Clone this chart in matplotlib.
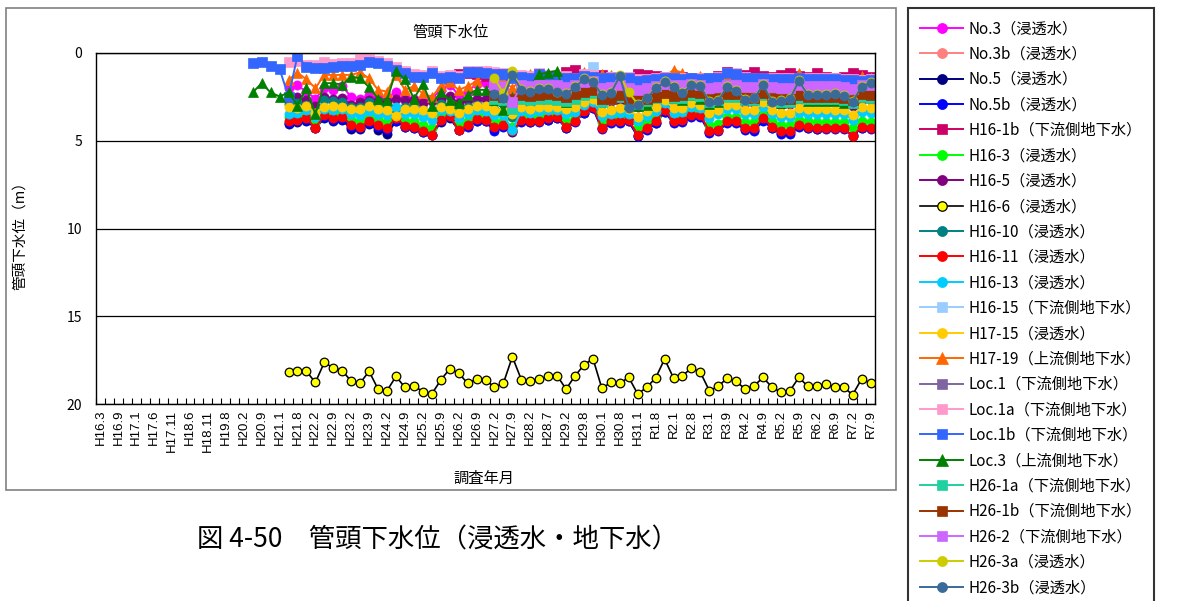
import numpy as np
import matplotlib.pyplot as plt
from matplotlib.patches import Rectangle

plt.rcParams['font.family'] = ['Noto Sans CJK JP', 'DejaVu Sans']

W, H = 1178, 601
n_cat = 87  # H16.3 ... R7.9, ラベルは2つおき

tick_labels = ['H16.3', 'H16.9', 'H17.1', 'H17.6', 'H17.11', 'H18.6', 'H18.11', 'H19.8',
               'H20.2', 'H20.9', 'H21.1', 'H21.8', 'H22.2', 'H22.9', 'H23.2', 'H23.9',
               'H24.2', 'H24.9', 'H25.2', 'H25.9', 'H26.2', 'H26.9', 'H27.2', 'H27.9',
               'H28.2', 'H28.7', 'H29.2', 'H29.8', 'H30.1', 'H30.8', 'H31.1', 'R1.8',
               'R2.1', 'R2.8', 'R3.1', 'R3.9', 'R4.2', 'R4.9', 'R5.2', 'R5.9',
               'R6.2', 'R6.9', 'R7.2', 'R7.9']

# 各系列の開始位置（カテゴリ番号）
start_loc = 17
start_main = 21
start_h16_1b = 40
start_h26 = 44

no3 = [2.00, 1.85, 2.20, 2.60, 2.00, 2.10, 1.90, 2.50, 2.60, 2.40, 2.50,
       2.60, 2.20, 2.50, 2.60, 2.70, 2.60, 2.10, 1.80, 2.40, 2.20, 1.75,
       1.70, 2.20, 2.10, 2.40, 2.10, 2.20, 2.10, 2.00, 2.00, 2.30, 2.10,
       1.80, 1.70, 2.30, 2.20, 2.10, 2.20, 2.50, 2.30, 2.10, 1.80, 2.10,
       2.10, 1.90, 1.90, 2.40, 2.30, 2.00, 2.00, 2.30, 2.30, 1.90, 2.30,
       2.40, 2.40, 2.10, 2.20, 2.20, 2.20, 2.20, 2.20, 2.50, 2.10, 2.10]
no3b = [1.95, 2.00, 2.20, 1.95, 2.00, 1.95, 1.90, 1.95, 2.05, 1.90,
        1.75, 1.70, 2.10, 2.05, 1.95, 2.10, 2.20, 2.10, 2.00, 1.85, 1.95,
        1.95, 1.85, 1.90, 2.10, 2.05, 1.90, 1.90, 2.05, 2.05, 1.85, 2.05,
        2.10, 2.10, 1.95, 2.00, 2.00, 2.00, 2.00, 2.05, 2.15, 1.90, 1.95]
no5 = [4.05, 3.95, 3.85, 4.30, 3.70, 3.85, 3.80, 4.35, 4.35, 4.05, 4.40,
       4.60, 3.90, 4.20, 4.25, 4.50, 4.70, 3.95, 3.70, 4.40, 4.15, 3.85,
       3.90, 4.35, 4.15, 4.50, 3.90, 3.95, 3.90, 3.80, 3.70, 4.25, 3.90,
       3.40, 3.15, 4.30, 3.95, 3.95, 3.90, 4.75, 4.35, 4.00, 3.35, 3.95,
       3.90, 3.60, 3.60, 4.50, 4.40, 3.95, 3.95, 4.35, 4.40, 3.80, 4.25,
       4.55, 4.50, 4.15, 4.25, 4.35, 4.30, 4.30, 4.30, 4.75, 4.25, 4.30]
no5b = [4.00, 3.90, 3.80, 4.25, 3.65, 3.80, 3.75, 4.20, 4.25, 4.00, 4.20,
        4.40, 3.85, 4.20, 4.25, 4.50, 4.65, 3.90, 3.65, 4.40, 4.20, 3.85,
        3.90, 4.47, 4.20, 4.40, 3.95, 3.95, 3.95, 3.80, 3.70, 4.30, 3.95,
        3.40, 3.15, 4.35, 4.00, 4.00, 3.90, 4.75, 4.40, 4.00, 3.35, 4.00,
        3.95, 3.65, 3.65, 4.55, 4.45, 4.00, 4.00, 4.40, 4.45, 3.85, 4.30,
        4.60, 4.60, 4.20, 4.30, 4.35, 4.35, 4.35, 4.35, 4.70, 4.25, 4.35]
h16_1b = [1.20, 1.12, 1.20,
          1.30, 1.35, 1.25, 1.30, 1.35, 1.40, 1.35, 1.30, 1.35, 1.06, 0.95,
          1.35, 1.40, 1.25, 1.35, 1.40, 1.45, 1.20, 1.25, 1.30, 1.35, 1.40,
          1.35, 1.40, 1.45, 1.50, 1.30, 1.06, 1.20, 1.25, 1.06, 1.30, 1.35,
          1.25, 1.12, 1.30, 1.35, 1.16, 1.35, 1.40, 1.35, 1.16, 1.25, 1.35]
h16_3 = [3.65, 3.55, 3.45, 3.95, 3.30, 3.45, 3.40, 3.80, 3.85, 3.60, 3.75,
         3.95, 3.55, 3.85, 3.90, 4.10, 4.25, 3.55, 3.40, 4.05, 3.85, 3.55,
         3.55, 3.90, 3.85, 4.20, 3.55, 3.65, 3.60, 3.50, 3.40, 3.95, 3.60,
         3.15, 2.90, 3.95, 3.65, 3.65, 3.60, 4.30, 3.95, 3.65, 3.05, 3.65,
         3.60, 3.30, 3.35, 4.10, 4.05, 3.65, 3.65, 3.95, 3.95, 3.50, 3.90,
         4.10, 4.10, 3.80, 3.90, 3.95, 3.95, 3.95, 3.95, 4.30, 3.85, 3.95]
h16_5 = [2.60, 2.50, 2.70, 3.00, 2.50, 2.60, 2.55, 2.95, 2.80, 2.70, 2.75,
         2.80, 2.60, 2.70, 2.70, 2.85, 2.75, 2.70, 2.45, 2.85, 2.70, 2.60,
         2.60, 2.80, 2.85, 3.00, 2.80, 2.85, 2.80, 2.75, 2.70, 2.95, 2.80,
         2.50, 2.30, 2.90, 2.75, 2.75, 2.85, 3.05, 2.90, 2.70, 2.40, 2.70,
         2.65, 2.45, 2.50, 2.95, 2.85, 2.60, 2.60, 2.85, 2.85, 2.45, 2.80,
         2.95, 2.90, 2.70, 2.75, 2.75, 2.75, 2.75, 2.80, 3.00, 2.65, 2.70]
h16_6 = [18.20, 18.14, 18.14, 18.77, 17.63, 17.95, 18.10, 18.70, 18.80, 18.14, 19.15,
         19.24, 18.43, 19.05, 18.96, 19.30, 19.43, 18.64, 18.00, 18.24, 18.82, 18.58,
         18.61, 19.05, 18.81, 17.31, 18.61, 18.71, 18.58, 18.43, 18.39, 19.15, 18.39,
         17.78, 17.41, 19.11, 18.77, 18.81, 18.49, 19.43, 19.05, 18.52, 17.44, 18.52,
         18.39, 17.95, 18.20, 19.24, 18.99, 18.52, 18.71, 19.15, 18.96, 18.49, 19.05,
         19.33, 19.24, 18.49, 18.99, 18.99, 18.86, 19.05, 19.05, 19.47, 18.58, 18.81]
h16_10 = [2.90, 2.85, 2.95, 3.40, 2.70, 2.75, 2.80, 3.05, 3.10, 2.80, 3.00,
          3.10, 3.30, 3.10, 3.10, 3.25, 3.40, 2.90, 3.00, 3.30, 3.10, 2.95,
          3.00, 3.20, 3.30, 3.65, 3.10, 3.20, 3.10, 3.05, 3.00, 3.30, 3.10,
          2.75, 2.55, 3.40, 3.25, 3.20, 3.60, 3.80, 3.40, 3.05, 2.70, 3.20,
          3.15, 2.90, 2.95, 3.55, 3.40, 3.05, 3.05, 3.35, 3.35, 2.90, 3.35,
          3.50, 3.50, 3.25, 3.30, 3.30, 3.30, 3.30, 3.35, 3.60, 3.20, 3.25]
h16_11 = [3.90, 3.81, 3.71, 4.28, 3.52, 3.71, 3.62, 4.10, 4.19, 3.90, 4.10,
          4.28, 3.70, 4.15, 4.22, 4.47, 4.66, 3.81, 3.58, 4.38, 4.13, 3.77,
          3.81, 4.19, 4.09, 4.47, 3.81, 3.90, 3.85, 3.71, 3.62, 4.22, 3.85,
          3.33, 3.05, 4.28, 3.90, 3.90, 3.81, 4.66, 4.28, 3.90, 3.24, 3.90,
          3.81, 3.52, 3.52, 4.47, 4.38, 3.90, 3.90, 4.28, 4.28, 3.71, 4.19,
          4.47, 4.47, 4.09, 4.19, 4.28, 4.28, 4.28, 4.28, 4.75, 4.19, 4.28]
h16_13 = [3.45, 3.40, 3.25, 3.65, 3.20, 3.25, 3.20, 3.50, 3.55, 3.30, 3.45,
          3.55, 3.05, 3.50, 3.50, 3.65, 3.80, 3.25, 3.30, 3.70, 3.45, 3.25,
          3.30, 3.55, 3.55, 4.40, 3.30, 3.40, 3.30, 3.25, 3.25, 3.50, 3.35,
          2.95, 2.80, 3.60, 3.45, 3.40, 3.45, 3.90, 3.60, 3.30, 2.85, 3.40,
          3.35, 3.10, 3.15, 3.70, 3.50, 3.20, 3.20, 3.50, 3.50, 3.05, 3.50,
          3.65, 3.65, 3.40, 3.45, 3.45, 3.45, 3.50, 3.50, 3.80, 3.35, 3.40]
h16_15 = [2.20, 2.30, 2.40, 2.30, 2.40, 2.60, 2.30, 2.20, 2.40, 2.30,
          1.80, 0.78, 2.30, 2.20, 2.10, 2.30, 2.50, 2.40, 2.20, 1.90, 2.20,
          2.20, 2.00, 2.10, 2.40, 2.30, 2.00, 2.10, 2.30, 2.30, 2.00, 2.30,
          2.40, 2.40, 2.10, 2.20, 2.20, 2.20, 2.20, 2.30, 2.50, 2.10, 2.20]
h17_15 = [3.10, 3.15, 3.00, 3.40, 3.05, 3.00, 3.05, 3.20, 3.20, 3.00, 3.20,
          3.25, 3.60, 3.20, 3.20, 3.25, 3.40, 3.05, 3.20, 3.43, 3.20, 3.01,
          3.01, 3.24, 3.30, 3.45, 3.05, 3.20, 3.09, 3.05, 3.05, 3.20, 3.09,
          2.77, 2.63, 3.36, 3.24, 3.14, 3.20, 3.62, 3.33, 3.05, 2.67, 3.14,
          3.14, 2.86, 2.95, 3.43, 3.24, 2.95, 2.95, 3.24, 3.24, 2.82, 3.24,
          3.43, 3.43, 3.14, 3.20, 3.20, 3.20, 3.24, 3.24, 3.52, 3.09, 3.14]
h17_19 = [1.53, 1.12, 1.50, 2.00, 1.25, 1.25, 1.25, 1.25, 1.10, 1.45, 2.10,
          2.20, 1.25, 2.10, 1.90, 2.30, 2.50, 1.90, 1.68, 2.10, 1.90, 1.60,
          1.00, 1.50, 1.60, 2.00, 1.50, 1.20, 1.45, 1.40, 1.30, 1.60, 1.45,
          1.06, 1.35, 1.20, 1.25, 1.50, 1.60, 1.70, 1.55, 1.40, 1.35, 0.97,
          1.12, 1.45, 1.30, 1.70, 1.55, 1.40, 1.33, 1.50, 1.55, 1.40, 1.60,
          1.60, 1.55, 1.14, 1.50, 1.55, 1.55, 1.55, 1.60, 1.70, 1.33, 1.45]
loc1 = [1.85, 1.90, 2.70, 1.85, 1.90, 1.85, 1.80, 1.85, 1.95, 1.80,
        1.65, 1.60, 2.00, 1.95, 1.85, 2.00, 2.10, 2.00, 1.90, 1.75, 1.85,
        1.85, 1.75, 1.80, 2.00, 1.95, 1.80, 1.80, 1.95, 1.95, 1.75, 1.95,
        2.00, 2.00, 1.85, 1.90, 1.90, 1.90, 1.90, 1.95, 2.05, 1.80, 1.85]
loc1a = [0.50, 0.45, 0.70, 0.70, 0.50, 0.60, 0.55, 0.55, 0.37, 0.37, 0.45,
         0.55, 0.80, 1.00, 1.20, 1.25, 1.05, 1.30, 1.25, 1.30, 1.05, 1.00,
         1.05, 1.10, 1.15, 1.30, 1.25, 1.30, 1.15, 1.25, 1.40, 1.30, 1.40,
         1.20, 1.25, 1.40, 1.35, 1.40, 1.35, 1.50, 1.50, 1.45, 1.35, 1.40,
         1.45, 1.40, 1.45, 1.40, 1.35, 1.15, 1.15, 1.35, 1.40, 1.40, 1.45,
         1.45, 1.45, 1.40, 1.45, 1.45, 1.45, 1.45, 1.50, 1.50, 1.55, 1.50]
loc1b = [0.55, 0.50, 0.75, 0.90,
         2.50, 0.15, 0.80, 0.85, 0.85, 0.80, 0.75, 0.75, 0.70, 0.50, 0.58,
         0.73, 0.97, 1.15, 1.35, 1.35, 1.15, 1.40, 1.35, 1.40, 1.10, 1.10,
         1.15, 1.20, 1.20, 1.40, 1.35, 1.40, 1.20, 1.30, 1.50, 1.40, 1.45,
         1.30, 1.35, 1.45, 1.40, 1.50, 1.40, 1.60, 1.55, 1.50, 1.40, 1.45,
         1.50, 1.45, 1.50, 1.45, 1.40, 1.16, 1.20, 1.40, 1.45, 1.45, 1.50,
         1.50, 1.50, 1.45, 1.50, 1.50, 1.50, 1.50, 1.55, 1.55, 1.60, 1.55]
loc3 = [2.25, 1.72, 2.25, 2.48,
        2.25, 3.00, 2.00, 3.50, 1.72, 1.72, 1.80, 1.35, 1.45, 1.95, 2.60,
        2.70, 1.00, 1.50, 2.60, 1.75, 3.00, 2.20, 2.70, 2.86, 2.39, 2.10,
        2.10, 2.67, 3.24, 2.50, 2.30, 1.90, 1.20, 1.12, 1.00, 2.77, 2.30,
        2.20, 2.00, 2.60, 2.40, 2.10, 2.90, 3.00, 2.95, 2.30, 2.00, 2.58,
        2.65, 2.40, 2.60, 2.90, 2.80, 2.40, 2.39, 2.60, 2.60, 2.29, 2.70,
        2.86, 2.75, 2.20, 2.75, 2.75, 2.75, 2.75, 2.85, 2.85, 2.29, 2.50]
h26_1a = [2.60, 2.70, 3.20, 2.60, 2.70, 2.60, 2.60, 2.65, 2.75, 2.60,
          2.40, 2.30, 2.80, 2.60, 2.50, 2.80, 2.90, 2.75, 2.55, 2.30, 2.55,
          2.55, 2.40, 2.45, 2.80, 2.70, 2.50, 2.50, 2.70, 2.70, 2.40, 2.70,
          2.80, 2.80, 2.55, 2.60, 2.60, 2.60, 2.60, 2.65, 2.85, 2.50, 2.55]
h26_1b = [2.40, 2.50, 2.60, 2.40, 2.45, 2.40, 2.35, 2.40, 2.50, 2.35,
          2.20, 2.10, 2.60, 2.60, 2.40, 2.60, 2.70, 2.60, 2.50, 2.30, 2.45,
          2.40, 2.25, 2.30, 2.60, 2.55, 2.35, 2.35, 2.50, 2.55, 2.30, 2.55,
          2.60, 2.60, 2.40, 2.50, 2.50, 2.50, 2.50, 2.55, 2.65, 2.35, 2.40]
h26_2 = [1.85, 1.90, 2.80, 1.85, 1.90, 1.85, 1.80, 1.85, 1.95, 1.80,
         1.65, 1.60, 2.00, 1.95, 1.85, 2.00, 2.10, 2.00, 1.90, 1.75, 1.85,
         1.85, 1.75, 1.80, 2.00, 1.95, 1.80, 1.80, 1.95, 1.95, 1.75, 1.95,
         2.00, 2.00, 1.85, 1.90, 1.90, 1.90, 1.90, 1.95, 2.05, 1.80, 1.85]
h26_3a = [1.44, 2.30, 1.05, 2.05, 2.15, 2.00, 2.00, 2.20, 2.30, 1.90,
          1.45, 1.60, 2.35, 2.25, 1.28, 2.25, 2.90, 2.55, 1.95, 1.62, 1.88,
          2.25, 1.78, 1.85, 2.75, 2.65, 1.88, 2.10, 2.62, 2.55, 1.78, 2.72,
          2.65, 2.58, 1.55, 2.35, 2.35, 2.35, 2.30, 2.40, 2.72, 1.88, 1.68]
h26_3b = [2.35, 2.58, 1.25, 2.10, 2.20, 2.05, 2.05, 2.24, 2.33, 1.95,
          1.48, 1.63, 2.39, 2.29, 1.31, 3.14, 2.95, 2.58, 2.01, 1.67, 1.91,
          2.29, 1.82, 1.88, 2.80, 2.71, 1.91, 2.14, 2.67, 2.58, 1.82, 2.77,
          2.71, 2.61, 1.59, 2.39, 2.39, 2.39, 2.35, 2.44, 2.77, 1.91, 1.72]


def pad(start, vals):
    y = np.full(n_cat, np.nan)
    y[start:start + len(vals)] = vals
    return y


# (凡例名, データ, 開始, 色, マーカー)
series = [
    ('No.3（浸透水）', no3, start_main, '#FF00FF', 'o'),
    ('No.3b（浸透水）', no3b, start_h26, '#FF8080', 'o'),
    ('No.5（浸透水）', no5, start_main, '#000080', 'o'),
    ('No.5b（浸透水）', no5b, start_main, '#0000FF', 'o'),
    ('H16-1b（下流側地下水）', h16_1b, start_h16_1b, '#CC0066', 's'),
    ('H16-3（浸透水）', h16_3, start_main, '#00FF00', 'o'),
    ('H16-5（浸透水）', h16_5, start_main, '#800080', 'o'),
    ('H16-6（浸透水）', h16_6, start_main, '#000000', 'o'),
    ('H16-10（浸透水）', h16_10, start_main, '#008080', 'o'),
    ('H16-11（浸透水）', h16_11, start_main, '#FF0000', 'o'),
    ('H16-13（浸透水）', h16_13, start_main, '#00CCFF', 'o'),
    ('H16-15（下流側地下水）', h16_15, start_h26, '#99CCFF', 's'),
    ('H17-15（浸透水）', h17_15, start_main, '#FFCC00', 'o'),
    ('H17-19（上流側地下水）', h17_19, start_main, '#FF6600', '^'),
    ('Loc.1（下流側地下水）', loc1, start_h26, '#8064A2', 's'),
    ('Loc.1a（下流側地下水）', loc1a, start_main, '#FF99CC', 's'),
    ('Loc.1b（下流側地下水）', loc1b, start_loc, '#3366FF', 's'),
    ('Loc.3（上流側地下水）', loc3, start_loc, '#008000', '^'),
    ('H26-1a（下流側地下水）', h26_1a, start_h26, '#1FD0A0', 's'),
    ('H26-1b（下流側地下水）', h26_1b, start_h26, '#993300', 's'),
    ('H26-2（下流側地下水）', h26_2, start_h26, '#CC66FF', 's'),
    ('H26-3a（浸透水）', h26_3a, start_h26, '#CCCC00', 'o'),
    ('H26-3b（浸透水）', h26_3b, start_h26, '#3A6A9A', 'o'),
]

fig = plt.figure(figsize=(W / 100, H / 100), dpi=100)
ax = fig.add_axes([96 / W, 1 - 404 / H, (875 - 96) / W, (404 - 53) / H])

x = np.arange(n_cat)
for name, vals, st, col, mk in series:
    y = pad(st, vals)
    if name.startswith('H16-6'):
        ax.plot(x, y, color='black', lw=1.2, marker='o', ms=6.2,
                mfc='#FFFF00', mec='black', mew=0.9, label=name)
    else:
        ms = 7.2 if mk == '^' else 6.6
        ax.plot(x, y, color=col, lw=1.4, marker=mk, ms=ms,
                mfc=col, mec=col, mew=0.5, label=name)

ax.set_xlim(-0.5, n_cat - 0.5)
ax.set_ylim(20, 0)
ax.set_yticks([0, 5, 10, 15, 20])
ax.yaxis.grid(True, color='black', lw=0.9)
ax.set_axisbelow(True)
ax.tick_params(axis='y', length=0, pad=10, labelsize=10)

ax.set_xticks(np.arange(0, n_cat, 2))
ax.set_xticklabels(tick_labels, rotation=90, fontsize=9.5, family=['Liberation Sans', 'DejaVu Sans'])
ax.set_xticks(np.arange(-0.5, n_cat, 1), minor=True)
ax.tick_params(axis='x', which='major', length=0, pad=4)
ax.tick_params(axis='x', which='minor', direction='in', length=4, width=0.8)
for s in ax.spines.values():
    s.set_color('black')
    s.set_linewidth(1.0)

fig.text(451 / W, 1 - 32 / H, '管頭下水位', ha='center', va='center', fontsize=11)
fig.text(20 / W, 1 - 232 / H, '管頭下水位（m）', rotation=90, ha='center', va='center', fontsize=10.5)
fig.text(484 / W, 1 - 478 / H, '調査年月', ha='center', va='center', fontsize=11)
fig.text(197 / W, 1 - 540 / H, '図 4-50　管頭下水位（浸透水・地下水）', ha='left', va='center', fontsize=19)

fig.add_artist(Rectangle((6 / W, 1 - 490 / H), 890 / W, 482 / H, transform=fig.transFigure,
                         fill=False, edgecolor='#808080', lw=1.2))

leg = fig.legend(loc='upper left', bbox_to_anchor=(908 / W, 1 - 8 / H), fontsize=11,
                 frameon=True, fancybox=False, edgecolor='black', borderaxespad=0,
                 handlelength=2.8, handletextpad=0.35, labelspacing=0.55, borderpad=0.8,
                 markerscale=1.1)
leg.get_frame().set_linewidth(1.5)

fig.savefig('out.png', dpi=100)
